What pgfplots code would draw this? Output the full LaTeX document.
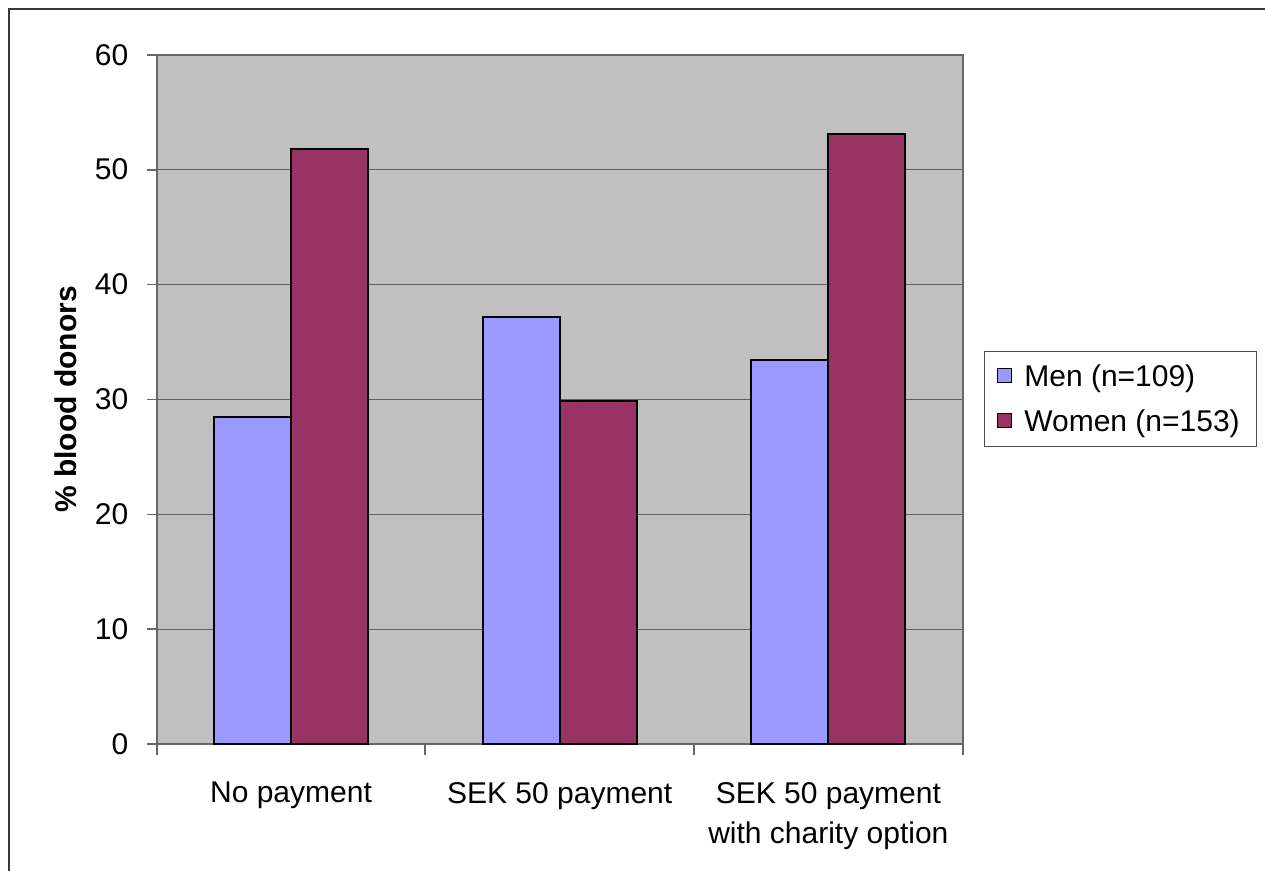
\documentclass[border=0pt]{standalone}
\usepackage{fontspec}
\setmainfont{Liberation Sans}
\usepackage{pgfplots}
\pgfplotsset{compat=1.18}
\definecolor{men}{HTML}{9999FF}
\definecolor{women}{HTML}{993366}
\definecolor{bg}{HTML}{C0C0C0}
\definecolor{gridc}{HTML}{5F5F5F}
\begin{document}
\begin{tikzpicture}
\path[use as bounding box] (0pt,0pt) rectangle (632.5pt,435.5pt);
\draw[line width=0.85pt, color=black!78] (4.5pt,0pt) -- (4.5pt,431pt) -- (632.5pt,431pt);
\begin{axis}[
  at={(78.35pt,63.35pt)}, anchor=south west,
  scale only axis, width=403pt, height=344.8pt,
  ybar=0pt, bar width=38.5pt,
  xmin=-0.5, xmax=2.5, ymin=0, ymax=60,
  ytick={0,10,20,30,40,50,60},
  xtick={0,1,2},
  xticklabels={No payment, SEK 50 payment, {SEK 50 payment\\with charity option}},
  minor xtick={-0.5,0.5,1.5,2.5},
  axis background/.style={fill=bg},
  axis line style={draw=black!60, line width=0.9pt},
  ymajorgrids,
  major grid style={draw=gridc, line width=0.6pt},
  tick align=outside,
  xtick pos=left, ytick pos=left,
  major tick length=5pt, minor tick length=5.5pt,
  tick style={draw=black!60, line width=0.9pt},
  major x tick style={draw=none},
  /pgf/number format/assume math mode=true,
  yticklabel style={font=\fontsize{15}{18}\selectfont, anchor=east, inner sep=0pt, xshift=-9pt},
  xticklabel style={font=\fontsize{15}{20}\selectfont, align=center, anchor=north, inner sep=0pt, yshift=-13.8pt},
  ylabel={\% blood donors},
  ylabel style={at={(axis description cs:-0.0989,0.5)}, anchor=south, inner sep=0pt, font=\fontsize{15}{18}\selectfont\bfseries},
  legend style={at={(rel axis cs:1.026,0.5703)}, anchor=north west, draw=black!70, line width=0.5pt, fill=white,
    font=\fontsize{15}{18}\selectfont, inner xsep=6.5pt, inner ysep=3.3pt, row sep=4pt, column sep=4pt,
    nodes={inner sep=2pt, text height=12pt, text depth=2.5pt}},
  legend cell align=left,
]
\addplot[fill=men, draw=black, line width=1pt,
  legend image code/.code={\draw[fill=men, draw=black, line width=0.6pt] (0pt,-3pt) rectangle (7pt,4pt);}]
  coordinates {(0,28.5) (1,37.2) (2,33.4)};
\addplot[fill=women, draw=black, line width=1pt,
  legend image code/.code={\draw[fill=women, draw=black, line width=0.6pt] (0pt,-3pt) rectangle (7pt,4pt);}]
  coordinates {(0,51.8) (1,29.9) (2,53.1)};
\legend{Men (n=109), Women (n=153)}
\end{axis}
\end{tikzpicture}
\end{document}
